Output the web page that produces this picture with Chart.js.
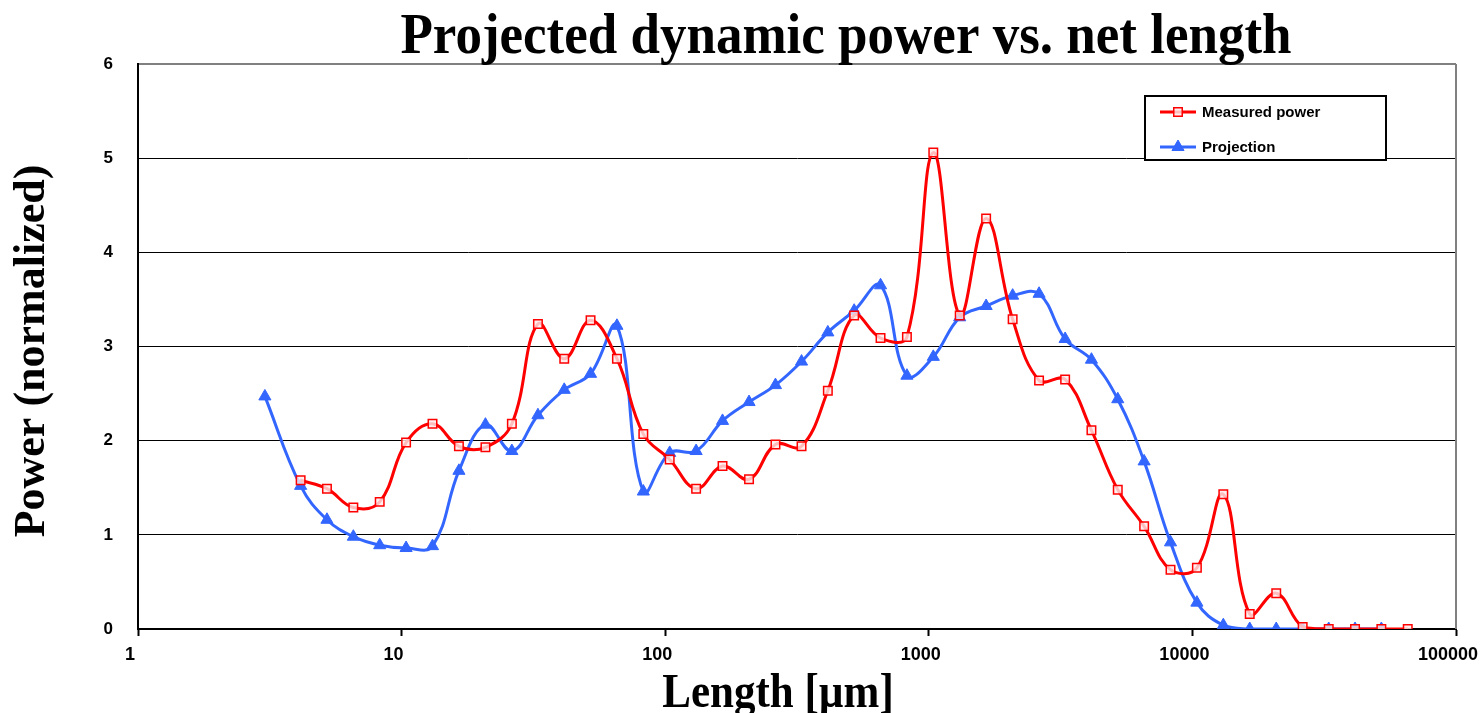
<!DOCTYPE html>
<html>
<head>
<meta charset="utf-8">
<script src="https://cdn.jsdelivr.net/npm/chart.js@4.4.1/dist/chart.umd.min.js"></script>
<style>
  html, body { margin: 0; padding: 0; background: #ffffff; }
  #contenedor { width: 1482px; height: 713px; position: relative; }
</style>
</head>
<body>
<div id="contenedor"><canvas id="potencia_longitud"></canvas></div>
<script>
// datos (longitud en um, potencia normalizada)
const longitud_medida = [4.14, 5.21, 6.56, 8.26, 10.4, 13.1, 16.5, 20.8, 26.2, 32.9, 41.4, 52.1, 65.6, 82.6,
  104, 131, 165, 208, 262, 329, 414, 521, 656, 826, 1040, 1310, 1650, 2080, 2620, 3290, 4140, 5210, 6560,
  8260, 10400, 13100, 16500, 20800, 26200, 32900, 41400, 52100, 65600];
const potencia_medida = [1.58, 1.49, 1.29, 1.35, 1.98, 2.18, 1.94, 1.93, 2.18, 3.24, 2.87, 3.28, 2.87, 2.07,
  1.80, 1.49, 1.73, 1.59, 1.96, 1.94, 2.53, 3.33, 3.09, 3.10, 5.06, 3.33, 4.36, 3.29, 2.64, 2.65, 2.11, 1.48,
  1.09, 0.63, 0.65, 1.43, 0.16, 0.38, 0.02, 0, 0, 0, 0];
const longitud_proyeccion = [3.03, 4.14, 5.21, 6.56, 8.26, 10.4, 13.1, 16.5, 20.8, 26.2, 32.9, 41.4, 52.1, 65.6,
  82.6, 104, 131, 165, 208, 262, 329, 414, 521, 656, 826, 1040, 1310, 1650, 2080, 2620, 3290, 4140, 5210,
  6560, 8260, 10400, 13100, 16500, 20800, 26200, 32900, 41400, 52100];
const potencia_proyeccion = [2.47, 1.52, 1.16, 0.98, 0.89, 0.86, 0.88, 1.68, 2.17, 1.89, 2.27, 2.54, 2.71, 3.22,
  1.46, 1.87, 1.89, 2.21, 2.41, 2.59, 2.84, 3.15, 3.38, 3.65, 2.69, 2.89, 3.31, 3.43, 3.54, 3.56, 3.08, 2.86,
  2.44, 1.78, 0.92, 0.28, 0.04, 0, 0, 0, 0, 0, 0];
const ticks_x = [1, 10, 100, 1000, 10000, 100000];
const nombres_series = ["Measured power", "Projection"];
const titulo = "Projected dynamic power vs. net length";
const titulo_x = "Length [\u00b5m]";
const titulo_y = "Power (normalized)";

const rojo = "#ff0000";
const azul = "#3366ff";
const serif = "'Liberation Serif', 'Times New Roman', serif";
const sans = "'Liberation Sans', Arial, sans-serif";

// titulos, borde del area y leyenda dibujados a mano
const plugin_extras = {
  id: "extras",
  beforeDatasetsDraw: (chart) => {
    const ctx = chart.ctx;
    const area = chart.chartArea;
    ctx.save();
    ctx.strokeStyle = "#808080";
    ctx.lineWidth = 2;
    ctx.beginPath();
    ctx.moveTo(area.right, area.top);
    ctx.lineTo(area.right, area.bottom);
    ctx.stroke();
    ctx.restore();
  },
  afterDraw: (chart) => {
    const ctx = chart.ctx;
    ctx.save();
    ctx.fillStyle = "#000";
    ctx.textBaseline = "alphabetic";
    ctx.textAlign = "center";

    ctx.save();
    ctx.translate(846, 53);
    ctx.scale(1, 1.06);
    ctx.font = "bold 53px " + serif;
    ctx.fillText(titulo, 0, 0);
    ctx.restore();

    ctx.save();
    ctx.translate(778, 707);
    ctx.scale(1, 1.15);
    ctx.font = "bold 43px " + serif;
    ctx.fillText(titulo_x, 0, 0);
    ctx.restore();

    ctx.save();
    ctx.translate(44, 351);
    ctx.rotate(-Math.PI / 2);
    ctx.font = "bold 44px " + serif;
    ctx.fillText(titulo_y, 0, 0);
    ctx.restore();

    // leyenda
    ctx.fillStyle = "#fff";
    ctx.fillRect(1145, 96, 241, 64);
    ctx.strokeStyle = "#000";
    ctx.lineWidth = 2;
    ctx.strokeRect(1145, 96, 241, 64);
    const filas = [112, 147];
    chart.data.datasets.forEach((ds, i) => {
      const y = filas[i];
      ctx.strokeStyle = ds.borderColor;
      ctx.lineWidth = 3;
      ctx.beginPath();
      ctx.moveTo(1160, y);
      ctx.lineTo(1196, y);
      ctx.stroke();
      ctx.fillStyle = ds.pointBackgroundColor;
      ctx.strokeStyle = ds.pointBorderColor;
      ctx.lineWidth = ds.pointBorderWidth;
      Chart.helpers.drawPoint(ctx, {
        pointStyle: ds.pointStyle,
        radius: ds.pointRadius,
        borderWidth: ds.pointBorderWidth,
        rotation: 0,
      }, 1178, y);
      ctx.fillStyle = "#000";
      ctx.textAlign = "left";
      ctx.textBaseline = "middle";
      ctx.font = "bold 15px " + sans;
      ctx.fillText(nombres_series[i], 1202, y + 1);
    });
    ctx.restore();
  },
};

const ctx = document.getElementById("potencia_longitud").getContext("2d");
const chart_potencia = new Chart(ctx, {
  type: "line",
  data: {
    datasets: [
      {
        label: nombres_series[0],
        data: longitud_medida.map((x, i) => ({ x: x, y: potencia_medida[i] })),
        borderColor: rojo,
        backgroundColor: rojo,
        borderWidth: 3,
        pointStyle: "rect",
        pointRadius: 6,
        pointBorderWidth: 1.5,
        pointBorderColor: rojo,
        pointBackgroundColor: "rgba(255,235,235,0.8)",
        tension: 0.4,
        fill: false,
      },
      {
        label: nombres_series[1],
        data: longitud_proyeccion.map((x, i) => ({ x: x, y: potencia_proyeccion[i] })),
        borderColor: azul,
        backgroundColor: azul,
        borderWidth: 3,
        pointStyle: "triangle",
        pointRadius: 7,
        pointBorderWidth: 1,
        pointBorderColor: azul,
        pointBackgroundColor: azul,
        tension: 0.4,
        fill: false,
      },
    ],
  },
  options: {
    responsive: true,
    maintainAspectRatio: false,
    animation: false,
    layout: { padding: { left: 0, top: 64, right: 26, bottom: 0 } },
    plugins: {
      legend: { display: false },
      title: { display: false },
      tooltip: { enabled: false },
    },
    scales: {
      x: {
        type: "logarithmic",
        min: 1,
        max: 100000,
        afterBuildTicks: (scale) => {
          scale.ticks = ticks_x.map((v) => ({ value: v }));
        },
        afterFit: (scale) => {
          scale.height = 84;
          scale.paddingLeft = 0;
          scale.paddingRight = 0;
        },
        ticks: {
          callback: (v) => String(v),
          color: "#000",
          font: { family: sans, size: 18, weight: "bold" },
          padding: 8,
          labelOffset: -8,
          maxRotation: 0,
          autoSkip: false,
        },
        grid: {
          drawOnChartArea: false,
          drawTicks: true,
          tickLength: 7,
          tickColor: "#000",
          tickWidth: 2,
        },
        border: { color: "#000", width: 2 },
      },
      y: {
        min: 0,
        max: 6,
        afterFit: (scale) => {
          scale.width = 138;
        },
        ticks: {
          stepSize: 1,
          color: "#000",
          font: { family: sans, size: 17, weight: "bold" },
          padding: 25,
        },
        grid: {
          color: (c) => (c.tick && c.tick.value === 6 ? "#808080" : "#000"),
          lineWidth: (c) => (c.tick && c.tick.value === 6 ? 2 : 1),
          drawTicks: false,
        },
        border: { color: "#000", width: 2 },
      },
    },
  },
  plugins: [plugin_extras],
});
</script>
</body>
</html>
